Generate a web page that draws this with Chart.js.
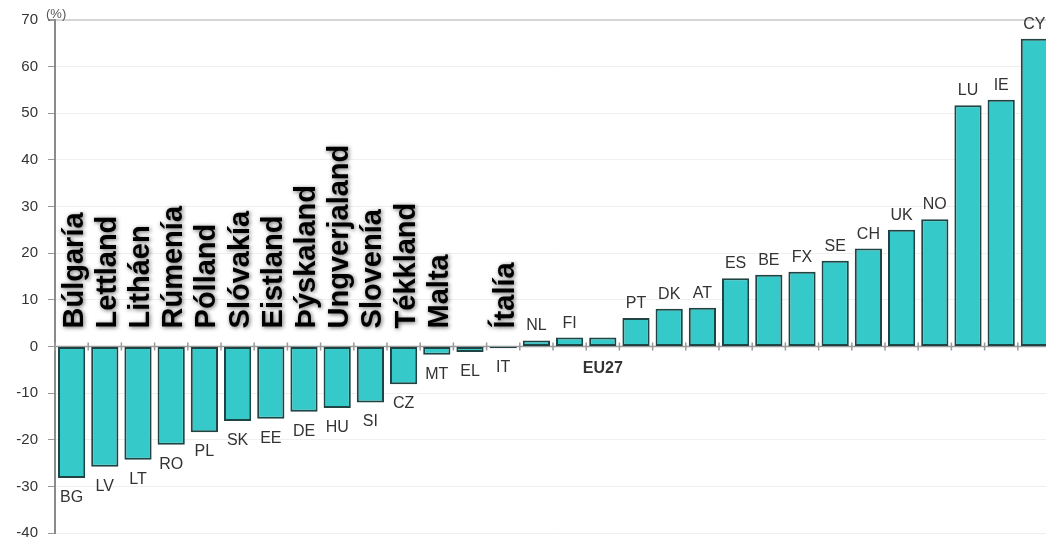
<!DOCTYPE html>
<html>
<head>
<meta charset="utf-8">
<script src="https://cdn.jsdelivr.net/npm/chart.js@4"></script>
<style>
html,body{margin:0;padding:0;background:#fff;overflow:hidden;}
#wrap{position:relative;width:1046px;height:542px;overflow:hidden;}
</style>
</head>
<body>
<div id="wrap"><canvas id="c" width="1060" height="552"></canvas></div>
<script>
const codes = ['BG','LV','LT','RO','PL','SK','EE','DE','HU','SI','CZ','MT','EL','IT','NL','FI','EU27','PT','DK','AT','ES','BE','FX','SE','CH','UK','NO','LU','IE','CY'];
const values = [-28.2,-25.8,-24.3,-21.1,-18.4,-16.0,-15.5,-14.0,-13.2,-12.0,-8.1,-1.8,-1.2,-0.4,1.3,1.9,1.9,6.1,8.1,8.3,14.6,15.4,16.0,18.4,21.0,25.0,27.3,51.7,52.9,66.0];
const names = ['Búlgaría','Lettland','Litháen','Rúmenía','Pólland','Slóvakía','Eistland','Þýskaland','Ungverjaland','Slovenía','Tékkland','Malta','','Ítalía'];
const yTicks = [-40,-30,-20,-10,0,10,20,30,40,50,60,70];
const unitLabel = '(%)';
const highlight = 'EU27';

Chart.defaults.font.family = "'Liberation Sans', Arial, sans-serif";

const labelPlugin = {
  id: 'labels',
  beforeDatasetsDraw(chart) {
    const ctx = chart.ctx, y = chart.scales.y, a = chart.chartArea;
    const y0 = y.getPixelForValue(0);
    const w = (a.right - a.left) / codes.length;
    ctx.save();
    ctx.strokeStyle = '#9a9a9a';
    ctx.lineWidth = 1.5;
    ctx.beginPath();
    ctx.moveTo(a.left, y0); ctx.lineTo(a.right, y0);
    for (let k = 0; k <= codes.length; k++) {
      const px = a.left + k * w;
      ctx.moveTo(px, y0 - 4); ctx.lineTo(px, y0 + 4);
    }
    ctx.stroke();
    ctx.restore();
  },
  afterDatasetsDraw(chart) {
    const ctx = chart.ctx, y = chart.scales.y, a = chart.chartArea;
    const meta = chart.getDatasetMeta(0);
    const y0 = y.getPixelForValue(0);
    ctx.save();
    ctx.textAlign = 'center';
    ctx.textBaseline = 'alphabetic';
    meta.data.forEach((el, i) => {
      const v = values[i];
      ctx.fillStyle = '#333';
      if (codes[i] === highlight) {
        ctx.font = "bold 16px 'Liberation Sans', Arial";
        ctx.fillText(codes[i], el.x, y0 + 27);
      } else if (v < 0) {
        ctx.font = "16px 'Liberation Sans', Arial";
        ctx.fillText(codes[i], el.x, el.y + 24);
      } else {
        ctx.font = "16px 'Liberation Sans', Arial";
        ctx.fillText(codes[i], el.x, el.y - 10);
      }
    });
    // vertical names
    ctx.font = "bold 29px 'Liberation Sans', Arial";
    ctx.fillStyle = '#000';
    ctx.shadowColor = 'rgba(0,0,0,0.6)';
    ctx.shadowBlur = 4;
    ctx.shadowOffsetX = 1;
    ctx.shadowOffsetY = 1;
    ctx.textAlign = 'left';
    names.forEach((n, i) => {
      if (!n) return;
      const el = meta.data[i];
      ctx.save();
      ctx.translate(el.x + 11, y0 - 18);
      ctx.rotate(-Math.PI / 2);
      ctx.fillText(n, 0, 0);
      ctx.restore();
    });
    ctx.restore();
    // unit label
    ctx.save();
    ctx.font = "13px 'Liberation Sans', Arial";
    ctx.fillStyle = '#555';
    ctx.textAlign = 'left';
    ctx.textBaseline = 'middle';
    ctx.fillText(unitLabel, a.left - 9, a.top - 6);
    ctx.restore();
  }
};

new Chart(document.getElementById('c'), {
  type: 'bar',
  data: {
    labels: codes,
    datasets: [{
      data: values,
      backgroundColor: '#36C9C9',
      borderColor: '#1f4444',
      borderWidth: 2,
      borderSkipped: false,
      barPercentage: 0.82,
      categoryPercentage: 1.0
    }]
  },
  options: {
    responsive: false,
    animation: false,
    layout: { padding: { top: 20, bottom: 9, right: 9, left: 0 } },
    plugins: { legend: { display: false }, tooltip: { enabled: false } },
    scales: {
      x: { display: false },
      y: {
        min: -40, max: 70,
        afterFit(s) { s.width = 55; },
        afterBuildTicks(s) { s.ticks = yTicks.map(v => ({ value: v })); },
        ticks: { color: '#333', font: { size: 15 }, padding: 10 },
        grid: {
          color: c => (c.tick && c.tick.value === 70) ? '#d6d6d6' : '#efefef',
          lineWidth: c => (c.tick && c.tick.value === 70) ? 2 : 1,
          tickColor: '#999',
          tickLength: 7
        },
        border: { display: true, color: '#8a8a8a', width: 2 }
      }
    }
  },
  plugins: [labelPlugin]
});
</script>
</body>
</html>
